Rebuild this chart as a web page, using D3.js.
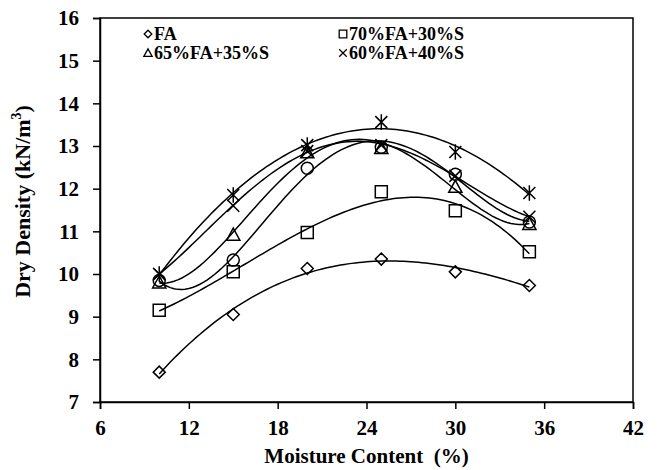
<!DOCTYPE html>
<html>
<head>
<meta charset="utf-8">
<title>Dry density vs moisture content</title>
<script src="https://d3js.org/d3.v7.min.js"></script>
<style>
  body { margin: 0; background: #fff; }
  text { font-family: "Liberation Serif", "Times New Roman", serif; font-weight: bold; fill: #000; white-space: pre; }
</style>
</head>
<body>
<svg id="chart" width="658" height="470"></svg>
<script>
    // Values
    var moisture = [10, 15, 20, 25, 30, 35];
    var fa      = [7.70, 9.05, 10.13, 10.35, 10.05, 9.73];   // diamond
    var fa70s30 = [9.15, 10.05, 10.97, 11.93, 11.48, 10.52]; // square
    var fa65s35 = [9.80, 10.92, 12.85, 12.95, 12.04, 11.17]; // triangle
    var fa60s40 = [10.00, 11.60, 12.88, 13.02, 12.30, 11.34]; // cross
    var circleSeries   = [9.85, 10.33, 12.48, 12.97, 12.34, 11.22];
    var asteriskSeries = [10.00, 11.85, 13.02, 13.56, 12.86, 11.90];

    var xTicks = [6, 12, 18, 24, 30, 36, 42];
    var yTicks = [7, 8, 9, 10, 11, 12, 13, 14, 15, 16];

    var series = [
        {name: 'FA', values: fa, shape: 'diamond', legend: true, order: 3},
        {name: '70%FA+30%S', values: fa70s30, shape: 'square', legend: true, order: 3},
        {name: '65%FA+35%S', values: fa65s35, shape: 'triangle', legend: true, order: 4},
        {name: '60%FA+40%S', values: fa60s40, shape: 'cross', legend: true, order: 4},
        {name: 'circle', values: circleSeries, shape: 'circle', legend: false, order: 4},
        {name: 'asterisk', values: asteriskSeries, shape: 'asterisk', legend: false, order: 3}
    ];

    var margin = {left: 100, top: 18, right: 25, bottom: 68};
    var svg = d3.select('#chart');
    var W = 658 - margin.left - margin.right;
    var H = 470 - margin.top - margin.bottom;

    var x = d3.scaleLinear().domain([6, 42]).range([margin.left, margin.left + W]);
    var y = d3.scaleLinear().domain([7, 16]).range([margin.top + H, margin.top]);

    // marker paths, r = half size
    function shapePath(shape, r) {
        switch (shape) {
            case 'diamond': return 'M0,' + (-r) + 'L' + r + ',0L0,' + r + 'L' + (-r) + ',0Z';
            case 'square': return 'M' + (-r) + ',' + (-r) + 'H' + r + 'V' + r + 'H' + (-r) + 'Z';
            case 'triangle': return 'M0,' + (-r * 1.1) + 'L' + (r * 1.1) + ',' + (r * 0.9) + 'L' + (-r * 1.1) + ',' + (r * 0.9) + 'Z';
            case 'circle': return d3.symbol(d3.symbolCircle, Math.PI * r * r)();
            case 'cross': return 'M' + (-r) + ',' + (-r) + 'L' + r + ',' + r + 'M' + (-r) + ',' + r + 'L' + r + ',' + (-r);
            case 'asterisk': return 'M' + (-r) + ',' + (-r) + 'L' + r + ',' + r + 'M' + (-r) + ',' + r + 'L' + r + ',' + (-r) +
                'M0,' + (-r * 1.3) + 'L0,' + (r * 1.3);
        }
    }

    // least squares polynomial trendline, like the spreadsheet one
    function polyFit(xs, ys, order) {
        var n = order + 1, A = [], b = [];
        var u = xs.map(function(v) { return (v - 22.5) / 12.5; }); // scaled for stability
        for (var i = 0; i < n; i++) {
            A.push([]);
            for (var j = 0; j < n; j++) A[i].push(d3.sum(u, function(v) { return Math.pow(v, i + j); }));
            b.push(d3.sum(u, function(v, k) { return ys[k] * Math.pow(v, i); }));
        }
        for (var c = 0; c < n; c++) {
            var p = c;
            for (var r = c + 1; r < n; r++) if (Math.abs(A[r][c]) > Math.abs(A[p][c])) p = r;
            var t = A[c]; A[c] = A[p]; A[p] = t;
            t = b[c]; b[c] = b[p]; b[p] = t;
            for (r = c + 1; r < n; r++) {
                var f = A[r][c] / A[c][c];
                for (var k = c; k < n; k++) A[r][k] -= f * A[c][k];
                b[r] -= f * b[c];
            }
        }
        var coef = new Array(n);
        for (var r2 = n - 1; r2 >= 0; r2--) {
            var s = b[r2];
            for (var k2 = r2 + 1; k2 < n; k2++) s -= A[r2][k2] * coef[k2];
            coef[r2] = s / A[r2][r2];
        }
        return function(v) {
            var uu = (v - 22.5) / 12.5;
            return d3.sum(coef, function(cf, i) { return cf * Math.pow(uu, i); });
        };
    }

    // frame
    svg.append('rect')
        .attr('x', x(6)).attr('y', y(16))
        .attr('width', x(42) - x(6)).attr('height', y(7) - y(16))
        .attr('fill', 'none').attr('stroke', '#000').attr('stroke-width', 1.5);

    // axes
    var xAxis = svg.append('g')
        .attr('transform', 'translate(0,' + y(7) + ')')
        .call(d3.axisBottom(x).tickValues(xTicks).tickSize(7).tickPadding(11));
    var yAxis = svg.append('g')
        .attr('transform', 'translate(' + x(6) + ',0)')
        .call(d3.axisLeft(y).tickValues(yTicks).tickSize(7).tickPadding(14));
    [xAxis, yAxis].forEach(function(g) {
        g.select('.domain').attr('stroke-width', 1.5);
        g.selectAll('.tick line').attr('stroke-width', 1.5);
        g.selectAll('text').attr('font-size', 21).attr('font-family', '"Liberation Serif", serif')
            .attr('font-weight', 'bold');
    });

    // trendlines
    var line = d3.line().x(function(d) { return x(d[0]); }).y(function(d) { return y(d[1]); });
    var xs = d3.range(10, 35.01, 0.25);
    series.forEach(function(s) {
        var fit = polyFit(moisture, s.values, s.order);
        svg.append('path')
            .datum(xs.map(function(v) { return [v, fit(v)]; }))
            .attr('d', line)
            .attr('fill', 'none').attr('stroke', '#000').attr('stroke-width', 1.5);
    });

    // markers
    series.forEach(function(s) {
        svg.append('g').selectAll('path')
            .data(s.values)
            .join('path')
            .attr('transform', function(d, i) { return 'translate(' + x(moisture[i]) + ',' + y(d) + ')'; })
            .attr('d', shapePath(s.shape, 6))
            .attr('fill', 'none').attr('stroke', '#000').attr('stroke-width', 1.5);
    });

    // legend
    var legendItems = series.filter(function(s) { return s.legend; });
    var legend = svg.append('g');
    legendItems.forEach(function(s, i) {
        var lx = i % 2 === 0 ? 148 : 343;
        var ly = i < 2 ? 34 : 53;
        legend.append('path')
            .attr('transform', 'translate(' + lx + ',' + ly + ')')
            .attr('d', shapePath(s.shape, 3.8))
            .attr('fill', 'none').attr('stroke', '#000').attr('stroke-width', 1.3);
        legend.append('text')
            .attr('x', lx + 6).attr('y', ly + 6)
            .attr('font-size', 18)
            .text(s.name);
    });

    // axis titles
    svg.append('text')
        .attr('x', x(24)).attr('y', 463)
        .attr('text-anchor', 'middle')
        .attr('font-size', 21)
        .text('Moisture Content  (%)');

    var yt = svg.append('text')
        .attr('transform', 'translate(30,' + y(11.7) + ') rotate(-90)')
        .attr('text-anchor', 'middle')
        .attr('font-size', 22);
    yt.append('tspan').text('Dry Density (kN/m');
    yt.append('tspan').attr('font-size', 14).attr('dy', -9).text('3');
    yt.append('tspan').attr('dy', 9).text(')');
</script>
</body>
</html>
